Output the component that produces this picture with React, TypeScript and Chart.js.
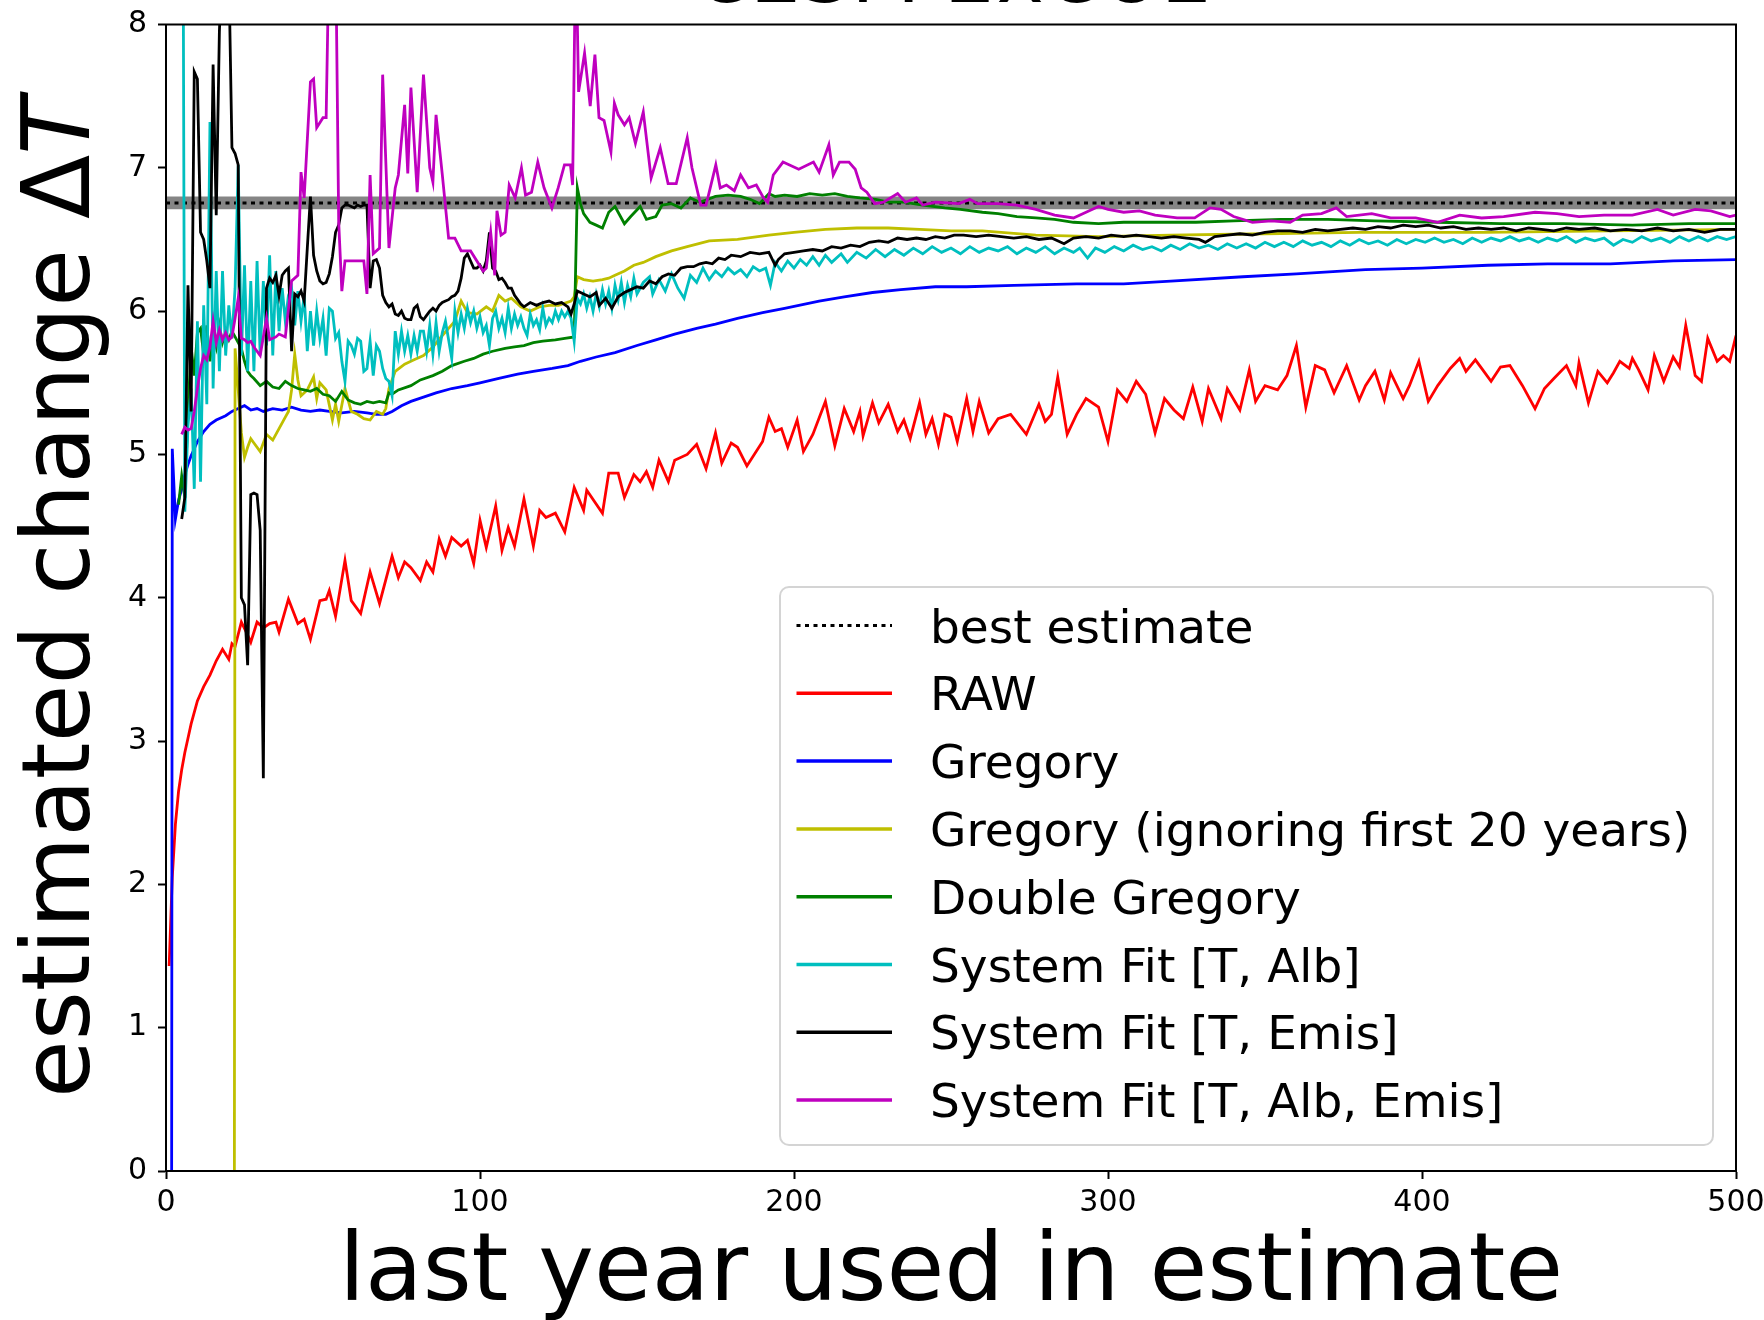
import { useEffect, useRef } from 'react';
import { Chart, registerables } from 'chart.js';

Chart.register(...registerables);

type Pt = [number, number];

const FONT_FAMILY = "'DejaVu Sans', 'Liberation Sans', sans-serif";

// Text
const chartTitle = 'CESM 2xCO2';
const xAxisTitle = 'last year used in estimate';
const yAxisTitleUpright = 'estimated change Δ';
const yAxisTitleItalic = 'T';

// Tick values
const xTicks = [0, 100, 200, 300, 400, 500];
const yTicks = [0, 1, 2, 3, 4, 5, 6, 7, 8];

// Best estimate and its uncertainty band
const bestEstimate = 6.755;
const bestEstimateRange: [number, number] = [6.71, 6.8];
const bestEstimateLabel = 'best estimate';

// [last year used, estimated change]
const rawSeries: Pt[] = [
  [1, 1.43], [2, 2.05], [3, 2.42], [4, 2.65], [5, 2.8], [6, 2.92], [7, 3.02], [8, 3.12], [9, 3.2], [10, 3.28],
  [12, 3.38], [14, 3.46], [16, 3.56], [18, 3.64], [20, 3.57], [21, 3.68], [22, 3.66], [24, 3.83], [26, 3.74], [27, 3.69],
  [29, 3.83], [31, 3.79], [33, 3.82], [35, 3.83], [36, 3.76], [39, 3.99], [42, 3.82], [44, 3.85], [46, 3.71], [49, 3.98],
  [51, 3.99], [52, 4.05], [54, 3.87], [57, 4.26], [59, 3.98], [62, 3.89], [65, 4.18], [68, 3.96], [72, 4.29], [74, 4.14],
  [76, 4.25], [78, 4.21], [81, 4.12], [83, 4.25], [85, 4.18], [87, 4.41], [89, 4.29], [91, 4.42], [94, 4.36], [96, 4.4],
  [98, 4.24], [100, 4.54], [102, 4.35], [105, 4.64], [107, 4.33], [109, 4.49], [111, 4.36], [114, 4.69], [117, 4.36], [119, 4.61],
  [121, 4.56], [124, 4.59], [127, 4.46], [130, 4.77], [133, 4.61], [134, 4.75], [139, 4.59], [141, 4.87], [144, 4.87], [146, 4.7],
  [149, 4.86], [151, 4.81], [153, 4.88], [155, 4.77], [157, 4.96], [160, 4.81], [162, 4.96], [166, 5.0], [169, 5.07], [172, 4.9],
  [175, 5.15], [177, 4.94], [180, 5.08], [182, 5.05], [185, 4.92], [190, 5.09], [192, 5.26], [194, 5.16], [196, 5.18], [198, 5.05],
  [201, 5.24], [203, 5.02], [206, 5.14], [210, 5.37], [213, 5.06], [216, 5.32], [219, 5.16], [221, 5.3], [222, 5.13], [225, 5.36],
  [227, 5.22], [230, 5.35], [233, 5.16], [235, 5.24], [237, 5.11], [240, 5.36], [242, 5.14], [244, 5.25], [246, 5.07], [248, 5.28],
  [250, 5.26], [252, 5.09], [255, 5.39], [257, 5.16], [259, 5.37], [262, 5.15], [265, 5.25], [269, 5.28], [274, 5.14], [278, 5.35],
  [280, 5.23], [282, 5.28], [284, 5.54], [287, 5.14], [290, 5.28], [293, 5.39], [297, 5.33], [300, 5.09], [303, 5.45], [306, 5.37],
  [309, 5.51], [312, 5.42], [315, 5.15], [318, 5.39], [321, 5.31], [324, 5.25], [327, 5.47], [330, 5.23], [332, 5.46], [336, 5.25],
  [338, 5.46], [342, 5.31], [345, 5.59], [347, 5.37], [350, 5.48], [354, 5.45], [357, 5.55], [360, 5.76], [363, 5.33], [366, 5.62],
  [369, 5.59], [372, 5.43], [376, 5.62], [380, 5.38], [382, 5.48], [385, 5.58], [388, 5.38], [390, 5.57], [394, 5.39], [396, 5.48],
  [399, 5.65], [402, 5.37], [405, 5.48], [409, 5.6], [412, 5.67], [414, 5.58], [417, 5.66], [419, 5.6], [422, 5.51], [425, 5.61],
  [428, 5.62], [432, 5.48], [436, 5.32], [439, 5.46], [442, 5.53], [446, 5.62], [449, 5.48], [450, 5.64], [453, 5.36], [456, 5.58],
  [459, 5.5], [461, 5.57], [463, 5.65], [466, 5.6], [467, 5.67], [469, 5.59], [472, 5.45], [474, 5.69], [477, 5.51], [480, 5.68],
  [482, 5.61], [484, 5.9], [487, 5.55], [489, 5.51], [491, 5.81], [494, 5.65], [496, 5.69], [498, 5.65], [500, 5.83],
];

const gregorySeries: Pt[] = [
  [1, -20], [2, 5.04], [3, 4.55], [4, 4.68], [5, 4.76], [6, 4.86], [7, 4.93], [8, 4.99], [9, 5.04], [10, 5.09],
  [12, 5.16], [14, 5.21], [16, 5.24], [19, 5.27], [21, 5.3], [23, 5.32], [25, 5.34], [27, 5.31], [29, 5.32], [31, 5.3],
  [34, 5.32], [37, 5.31], [40, 5.33], [43, 5.31], [46, 5.3], [49, 5.31], [52, 5.3], [56, 5.29], [60, 5.3], [64, 5.29],
  [67, 5.28], [70, 5.28], [72, 5.3], [75, 5.34], [78, 5.37], [82, 5.4], [86, 5.43], [91, 5.46], [96, 5.48], [100, 5.5],
  [106, 5.53], [112, 5.56], [117, 5.58], [123, 5.6], [128, 5.62], [132, 5.65], [137, 5.68], [143, 5.71], [150, 5.76], [156, 5.8],
  [162, 5.84], [169, 5.88], [175, 5.91], [182, 5.95], [190, 5.99], [197, 6.02], [208, 6.07], [216, 6.1], [225, 6.13], [234, 6.15],
  [245, 6.17], [255, 6.17], [270, 6.18], [290, 6.19], [305, 6.19], [320, 6.21], [343, 6.24], [360, 6.26], [382, 6.29], [400, 6.3],
  [421, 6.32], [440, 6.33], [460, 6.33], [480, 6.35], [500, 6.36],
];

const gregoryLateSeries: Pt[] = [
  [21, -20], [22, 5.74], [23, 5.45], [24, 5.15], [25, 4.98], [26, 5.05], [27, 5.11], [28, 5.08], [30, 5.02], [32, 5.14],
  [34, 5.1], [36, 5.18], [38, 5.26], [39, 5.3], [40, 5.45], [41, 5.7], [42, 5.52], [43, 5.41], [45, 5.45], [47, 5.54],
  [48, 5.39], [49, 5.5], [51, 5.45], [53, 5.24], [54, 5.35], [55, 5.23], [57, 5.46], [59, 5.3], [61, 5.28], [63, 5.25],
  [65, 5.24], [67, 5.3], [69, 5.28], [70, 5.32], [71, 5.46], [73, 5.58], [76, 5.63], [79, 5.66], [82, 5.69], [85, 5.75],
  [88, 5.83], [90, 5.88], [92, 5.93], [94, 6.07], [96, 5.99], [99, 5.98], [102, 6.03], [104, 6.0], [106, 6.11], [108, 6.07],
  [110, 6.09], [113, 6.03], [116, 6.0], [119, 6.03], [122, 6.04], [125, 6.04], [129, 6.07], [130, 6.1], [131, 6.24], [133, 6.22],
  [136, 6.21], [139, 6.22], [141, 6.23], [143, 6.25], [146, 6.28], [149, 6.32], [152, 6.34], [156, 6.38], [161, 6.42], [166, 6.45],
  [173, 6.49], [182, 6.5], [192, 6.53], [200, 6.55], [210, 6.57], [220, 6.58], [230, 6.58], [240, 6.57], [250, 6.56], [260, 6.56],
  [277, 6.53], [297, 6.52], [320, 6.53], [350, 6.54], [380, 6.55], [420, 6.55], [460, 6.56], [500, 6.57],
];

const doubleGregorySeries: Pt[] = [
  [4, 4.65], [5, 4.85], [6, 4.7], [7, 5.3], [8, 5.75], [9, 5.55], [10, 5.85], [11, 5.88], [12, 5.7], [13, 5.9],
  [14, 5.65], [15, 5.85], [16, 5.75], [17, 5.9], [18, 5.78], [19, 5.85], [20, 5.8], [21, 5.86], [22, 5.82], [23, 5.78],
  [24, 5.74], [25, 5.65], [26, 5.58], [27, 5.55], [28, 5.53], [30, 5.48], [32, 5.51], [34, 5.47], [36, 5.46], [38, 5.51],
  [40, 5.48], [42, 5.46], [44, 5.45], [46, 5.44], [48, 5.46], [50, 5.42], [52, 5.41], [54, 5.37], [56, 5.44], [58, 5.38],
  [60, 5.36], [62, 5.35], [64, 5.37], [66, 5.36], [68, 5.37], [70, 5.36], [71, 5.43], [72, 5.42], [74, 5.45], [78, 5.48],
  [81, 5.52], [85, 5.55], [88, 5.58], [91, 5.62], [95, 5.65], [98, 5.67], [101, 5.7], [104, 5.72], [108, 5.74], [111, 5.75],
  [114, 5.76], [117, 5.78], [120, 5.79], [124, 5.8], [127, 5.81], [130, 5.82], [131, 6.86], [132, 6.75], [133, 6.68], [135, 6.62],
  [137, 6.6], [139, 6.58], [141, 6.69], [143, 6.73], [146, 6.61], [148, 6.66], [151, 6.73], [153, 6.64], [156, 6.66], [158, 6.74],
  [161, 6.75], [164, 6.72], [167, 6.79], [170, 6.76], [175, 6.8], [179, 6.81], [183, 6.8], [186, 6.78], [189, 6.75], [192, 6.82],
  [194, 6.8], [197, 6.81], [201, 6.8], [205, 6.82], [209, 6.81], [213, 6.82], [217, 6.8], [221, 6.79], [226, 6.78], [230, 6.76],
  [235, 6.76], [241, 6.74], [248, 6.72], [253, 6.71], [260, 6.69], [265, 6.68], [271, 6.66], [277, 6.65], [283, 6.64], [289, 6.62],
  [297, 6.61], [305, 6.62], [315, 6.62], [328, 6.62], [340, 6.63], [355, 6.64], [370, 6.64], [385, 6.63], [405, 6.62], [425, 6.61],
  [445, 6.61], [467, 6.6], [485, 6.61], [500, 6.61],
];

const fitAlbSeries: Pt[] = [
  [5, 12], [6, 4.6], [7, 5.2], [8, 5.46], [9, 4.76], [10, 5.93], [11, 4.81], [12, 6.04], [13, 5.35], [14, 7.32],
  [15, 5.46], [16, 6.28], [17, 5.58], [18, 6.28], [19, 5.69], [20, 6.04], [21, 5.81], [22, 6.16], [23, 7.02], [24, 5.69],
  [25, 6.32], [26, 5.58], [27, 6.21], [28, 5.58], [29, 6.35], [30, 5.69], [31, 6.21], [32, 5.76], [33, 6.39], [34, 5.69],
  [35, 6.28], [36, 5.86], [37, 6.16], [38, 5.93], [39, 6.11], [40, 6.16], [41, 5.9], [42, 6.14], [43, 5.93], [44, 6.11],
  [45, 5.72], [46, 6.0], [47, 5.76], [48, 6.0], [49, 5.81], [50, 5.95], [51, 5.69], [52, 6.02], [53, 6.0], [54, 5.81],
  [55, 5.85], [56, 5.65], [57, 5.51], [58, 5.79], [59, 5.76], [60, 5.7], [61, 5.81], [62, 5.79], [63, 5.58], [64, 5.6],
  [65, 5.79], [66, 5.55], [67, 5.76], [68, 5.72], [69, 5.6], [70, 5.53], [71, 5.51], [72, 5.41], [73, 5.86], [74, 5.7],
  [75, 5.86], [76, 5.72], [77, 5.83], [78, 5.7], [79, 5.83], [80, 5.72], [81, 5.86], [82, 5.86], [83, 5.72], [84, 5.9],
  [85, 5.7], [86, 5.92], [87, 5.72], [88, 5.85], [89, 5.93], [90, 5.8], [91, 5.67], [92, 6.0], [93, 5.85], [94, 5.98],
  [95, 5.88], [96, 6.02], [97, 5.92], [98, 6.0], [99, 5.88], [100, 5.96], [101, 5.85], [102, 5.9], [103, 5.76], [104, 5.95],
  [105, 6.0], [106, 5.88], [107, 5.95], [108, 5.85], [109, 6.02], [110, 5.88], [111, 5.98], [112, 5.9], [113, 5.96], [114, 5.88],
  [115, 5.83], [116, 5.98], [117, 5.9], [118, 5.94], [119, 5.87], [120, 6.02], [121, 5.9], [122, 5.95], [123, 5.92], [124, 6.0],
  [125, 5.94], [126, 6.0], [127, 5.96], [128, 6.0], [129, 5.95], [130, 5.79], [131, 6.09], [132, 6.05], [133, 6.12], [134, 6.02],
  [135, 6.1], [136, 6.0], [137, 6.12], [138, 6.03], [139, 6.15], [140, 6.05], [141, 6.14], [142, 6.02], [143, 6.18], [144, 6.08],
  [145, 6.2], [146, 6.06], [147, 6.18], [148, 6.1], [149, 6.23], [150, 6.12], [152, 6.2], [154, 6.24], [155, 6.12], [157, 6.22],
  [159, 6.14], [161, 6.26], [163, 6.16], [165, 6.09], [167, 6.25], [169, 6.2], [171, 6.3], [173, 6.22], [175, 6.28], [177, 6.24],
  [179, 6.3], [181, 6.26], [183, 6.29], [185, 6.24], [187, 6.31], [189, 6.28], [191, 6.3], [192.5, 6.18], [194, 6.34], [196, 6.28],
  [198, 6.35], [200, 6.3], [202, 6.36], [204, 6.32], [206, 6.38], [208, 6.32], [210, 6.39], [212, 6.34], [215, 6.4], [217, 6.34],
  [220, 6.41], [223, 6.37], [226, 6.43], [229, 6.38], [232, 6.43], [235, 6.39], [238, 6.44], [241, 6.4], [244, 6.45], [247, 6.41],
  [250, 6.44], [253, 6.4], [256, 6.45], [259, 6.41], [262, 6.44], [265, 6.42], [268, 6.45], [271, 6.4], [274, 6.44], [277, 6.41],
  [280, 6.45], [283, 6.4], [286, 6.44], [289, 6.41], [291, 6.44], [293.5, 6.37], [296, 6.44], [299, 6.41], [302, 6.45], [305, 6.42],
  [308, 6.46], [311, 6.43], [314, 6.45], [317, 6.42], [320, 6.46], [323, 6.43], [326, 6.47], [329, 6.44], [332, 6.46], [335, 6.43],
  [338, 6.47], [341, 6.44], [344, 6.47], [347, 6.44], [350, 6.48], [353, 6.45], [356, 6.48], [359, 6.45], [362, 6.49], [365, 6.46],
  [368, 6.48], [371, 6.45], [374, 6.49], [377, 6.46], [380, 6.5], [383, 6.47], [386, 6.49], [389, 6.46], [392, 6.5], [395, 6.47],
  [398, 6.5], [401, 6.48], [404, 6.51], [407, 6.48], [410, 6.5], [413, 6.47], [416, 6.51], [419, 6.48], [422, 6.51], [425, 6.49],
  [428, 6.52], [431, 6.49], [434, 6.51], [437, 6.48], [440, 6.51], [443, 6.49], [446, 6.52], [449, 6.48], [452, 6.51], [455, 6.49],
  [458, 6.51], [461, 6.46], [464, 6.5], [467, 6.48], [470, 6.52], [473, 6.49], [476, 6.51], [479, 6.48], [482, 6.52], [485, 6.49],
  [488, 6.52], [491, 6.49], [494, 6.52], [497, 6.5], [500, 6.52],
];

const fitEmisSeries: Pt[] = [
  [5, 4.55], [6, 4.7], [7, 6.18], [8, 5.3], [9, 7.67], [10, 7.62], [11, 6.55], [12, 6.5], [13, 6.35], [14, 6.16],
  [15, 7.72], [16, 6.67], [17, 7.95], [18, 8.5], [19, 8.6], [20, 8.4], [21, 7.14], [22, 7.1], [23, 7.02], [24, 4.0],
  [25, 3.95], [26, 3.53], [27, 4.72], [28, 4.73], [29, 4.72], [30, 4.47], [31, 2.74], [32, 6.16], [33, 6.23], [34, 6.2],
  [35, 6.25], [36, 6.11], [37, 6.25], [38, 6.28], [39, 6.3], [40, 5.72], [41, 6.12], [42, 6.1], [43, 6.14], [44, 6.07],
  [45, 6.44], [46, 6.8], [47, 6.39], [48, 6.28], [49, 6.21], [50, 6.19], [51, 6.2], [52, 6.26], [53, 6.38], [54, 6.55],
  [55, 6.6], [56, 6.72], [57, 6.74], [58, 6.74], [59, 6.73], [60, 6.72], [61, 6.74], [62, 6.73], [63, 6.74], [64, 6.74],
  [65, 6.16], [66, 6.35], [67, 6.36], [68, 6.3], [69, 6.11], [70, 6.06], [71, 6.03], [72, 6.05], [73, 5.98], [74, 5.97],
  [75, 6.0], [76, 5.95], [77, 5.94], [78, 5.94], [79, 6.02], [80, 6.04], [81, 5.96], [82, 5.94], [83, 5.97], [84, 6.0],
  [85, 6.02], [86, 6.0], [87, 6.04], [88, 6.06], [89, 6.07], [90, 6.08], [91, 6.1], [92, 6.11], [93, 6.14], [94, 6.23],
  [95, 6.37], [96, 6.4], [97, 6.35], [98, 6.3], [99, 6.3], [100, 6.32], [101, 6.28], [102, 6.35], [103, 6.55], [104, 6.3],
  [105, 6.28], [106, 6.22], [107, 6.23], [108, 6.2], [109, 6.16], [110, 6.16], [111, 6.11], [112, 6.08], [113, 6.05], [114, 6.03],
  [116, 6.06], [118, 6.04], [120, 6.06], [122, 6.07], [124, 6.05], [126, 6.06], [128, 6.03], [129, 5.98], [130, 6.05], [131, 6.14],
  [133, 6.12], [135, 6.1], [137, 6.13], [138, 6.04], [140, 6.09], [142, 6.02], [144, 6.1], [146, 6.13], [148, 6.15], [150, 6.17],
  [152, 6.16], [154, 6.21], [156, 6.19], [158, 6.24], [160, 6.26], [162, 6.25], [164, 6.3], [166, 6.31], [168, 6.31], [170, 6.33],
  [172, 6.34], [174, 6.33], [176, 6.37], [178, 6.36], [180, 6.39], [183, 6.38], [186, 6.41], [189, 6.4], [192, 6.41], [194, 6.32],
  [195, 6.36], [197, 6.4], [200, 6.41], [203, 6.42], [206, 6.43], [209, 6.42], [212, 6.45], [215, 6.44], [218, 6.46], [221, 6.45],
  [224, 6.48], [227, 6.49], [230, 6.48], [233, 6.51], [236, 6.5], [239, 6.51], [242, 6.5], [245, 6.52], [248, 6.51], [251, 6.53],
  [254, 6.53], [258, 6.52], [262, 6.53], [266, 6.52], [270, 6.51], [274, 6.52], [278, 6.5], [282, 6.51], [286, 6.47], [289, 6.51],
  [293, 6.52], [297, 6.51], [301, 6.53], [305, 6.52], [309, 6.53], [313, 6.52], [317, 6.51], [321, 6.52], [325, 6.51], [329, 6.5],
  [331, 6.48], [334, 6.52], [338, 6.53], [342, 6.54], [346, 6.53], [350, 6.55], [354, 6.56], [358, 6.56], [362, 6.55], [366, 6.57],
  [370, 6.56], [374, 6.57], [378, 6.58], [382, 6.57], [386, 6.59], [390, 6.58], [394, 6.6], [398, 6.59], [402, 6.6], [406, 6.58],
  [410, 6.59], [414, 6.57], [418, 6.58], [422, 6.57], [426, 6.58], [430, 6.56], [434, 6.58], [438, 6.57], [442, 6.56], [446, 6.58],
  [450, 6.57], [455, 6.58], [460, 6.56], [465, 6.57], [470, 6.56], [475, 6.58], [480, 6.56], [485, 6.57], [490, 6.55], [495, 6.57],
  [500, 6.57],
];

const fitAlbEmisSeries: Pt[] = [
  [5, 5.14], [6, 5.19], [7, 5.17], [8, 5.18], [9, 5.3], [10, 5.46], [11, 5.6], [12, 5.69], [13, 5.66], [14, 5.75],
  [15, 5.93], [16, 5.78], [17, 5.87], [18, 5.8], [19, 5.85], [20, 5.8], [21, 5.82], [22, 5.95], [23, 6.09], [24, 5.81],
  [25, 5.8], [26, 5.78], [27, 5.79], [28, 5.75], [30, 5.69], [32, 5.95], [33, 5.8], [35, 5.82], [36, 5.84], [38, 5.82],
  [40, 6.21], [42, 6.25], [43, 6.97], [44, 6.79], [46, 7.6], [47, 7.62], [48, 7.28], [50, 7.35], [51, 7.35], [52, 8.6],
  [53, 8.6], [54, 8.6], [55, 6.62], [56, 6.14], [57, 6.35], [60, 6.35], [63, 6.35], [64, 6.12], [65, 6.95], [66, 6.4],
  [68, 6.44], [69, 7.65], [71, 6.44], [73, 6.86], [74, 6.95], [76, 7.44], [77, 6.96], [78, 7.56], [80, 6.83], [82, 7.65],
  [84, 7.0], [85, 6.9], [86, 7.37], [88, 6.95], [90, 6.51], [92, 6.51], [94, 6.42], [97, 6.42], [101, 6.28], [102, 6.3],
  [103.4, 6.55], [104.7, 6.25], [105.4, 6.7], [106.7, 6.53], [108, 6.55], [109.3, 6.88], [111.2, 6.79], [113.2, 7.0], [114.5, 6.81], [116.4, 6.83],
  [118.4, 7.04], [120.4, 6.86], [122.9, 6.72], [124.9, 6.86], [126.9, 7.02], [128.8, 7.02], [129.5, 6.88], [130.5, 8.6], [131.4, 7.53], [133.3, 7.8],
  [135.1, 7.43], [136.6, 7.79], [137.9, 7.35], [139.5, 7.33], [141.7, 7.11], [142.8, 7.45], [144, 7.37], [146, 7.3], [147.5, 7.35], [149.5, 7.17],
  [152, 7.39], [154.5, 6.93], [157.4, 7.14], [159.9, 6.89], [162.5, 6.89], [166, 7.21], [167.5, 7.0], [170.3, 6.74], [172, 6.74], [175.1, 7.02],
  [176.5, 6.86], [178.5, 6.88], [181, 6.84], [183, 6.95], [185.5, 6.86], [188, 6.88], [190.3, 6.79], [191.6, 6.76], [193.4, 6.95], [196.5, 7.04],
  [201.5, 6.99], [206.2, 7.04], [208, 6.97], [211.1, 7.16], [212.5, 6.95], [214.5, 7.04], [217.5, 7.04], [219.5, 6.99], [221.4, 6.86], [223.2, 6.83],
  [225.7, 6.75], [228.5, 6.76], [233, 6.82], [235.5, 6.76], [239, 6.79], [241, 6.74], [245, 6.76], [252.5, 6.75], [256, 6.78], [258.5, 6.75],
  [265, 6.75], [271, 6.74], [277, 6.71], [283, 6.67], [289, 6.65], [293, 6.69], [297, 6.73], [300, 6.71], [305, 6.69], [310, 6.7],
  [315, 6.67], [322, 6.65], [327.6, 6.65], [332.5, 6.72], [336, 6.71], [340, 6.66], [346, 6.62], [352, 6.63], [358, 6.62], [362, 6.67],
  [368, 6.68], [372.7, 6.72], [376, 6.66], [384, 6.68], [390, 6.65], [398, 6.65], [405, 6.62], [412, 6.67], [419, 6.65], [426, 6.66],
  [436, 6.69], [443, 6.68], [450, 6.66], [458, 6.67], [467, 6.67], [475, 6.71], [480, 6.67], [487, 6.71], [492, 6.7], [498, 6.66],
  [500, 6.67],
];

// Series in drawing order (later entries sit on top)
const seriesDefs: { label: string; color: string; data: Pt[] }[] = [
  { label: 'RAW', color: '#ff0000', data: rawSeries },
  { label: 'Gregory', color: '#0000ff', data: gregorySeries },
  { label: 'Gregory (ignoring first 20 years)', color: '#bfbf00', data: gregoryLateSeries },
  { label: 'Double Gregory', color: '#008000', data: doubleGregorySeries },
  { label: 'System Fit [T, Alb]', color: '#00bfbf', data: fitAlbSeries },
  { label: 'System Fit [T, Emis]', color: '#000000', data: fitEmisSeries },
  { label: 'System Fit [T, Alb, Emis]', color: '#bf00bf', data: fitAlbEmisSeries },
];

const DOT_DASH = [4, 4.5];

const toPoints = (s: Pt[]) => s.map(([x, y]) => ({ x, y }));

// Figure decorations: frame, title, axis titles and the boxed legend
const decorations = {
  id: 'decorations',
  afterDraw(chart: Chart) {
    const { ctx, chartArea } = chart;
    const { left, top, right, bottom } = chartArea;
    ctx.save();

    ctx.strokeStyle = '#000';
    ctx.lineWidth = 2;
    ctx.setLineDash([]);
    ctx.strokeRect(left, top, right - left, bottom - top);

    ctx.fillStyle = '#000';
    ctx.textBaseline = 'alphabetic';
    const big = `94px ${FONT_FAMILY}`;
    const bigItalic = `italic 94px ${FONT_FAMILY}`;

    // title runs off the top edge of the figure
    ctx.font = `80px ${FONT_FAMILY}`;
    ctx.textAlign = 'left';
    ctx.fillText(chartTitle, 694, 2);

    ctx.font = big;
    ctx.textAlign = 'center';
    ctx.fillText(xAxisTitle, (left + right) / 2, 1300);

    ctx.save();
    ctx.translate(88.5, (top + bottom) / 2);
    ctx.rotate(-Math.PI / 2);
    ctx.font = big;
    const w1 = ctx.measureText(yAxisTitleUpright).width;
    ctx.font = bigItalic;
    const w2 = ctx.measureText(yAxisTitleItalic).width;
    const x0 = -(w1 + w2) / 2;
    ctx.textAlign = 'left';
    ctx.font = big;
    ctx.fillText(yAxisTitleUpright, x0, 0);
    ctx.font = bigItalic;
    ctx.fillText(yAxisTitleItalic, x0 + w1, 0);
    ctx.restore();

    // legend box
    const bx = 780;
    const by = 587;
    const bw = 933;
    const bh = 558;
    ctx.beginPath();
    ctx.roundRect(bx, by, bw, bh, 9);
    ctx.fillStyle = 'rgba(255,255,255,0.8)';
    ctx.fill();
    ctx.strokeStyle = 'rgba(204,204,204,0.85)';
    ctx.lineWidth = 2;
    ctx.stroke();

    const entries = [
      { label: bestEstimateLabel, color: '#000000', dash: DOT_DASH, width: 3 },
      ...seriesDefs.map((s) => ({ label: s.label, color: s.color, dash: [] as number[], width: 3.5 })),
    ];
    const rowStart = 625.5;
    const rowStep = 67.8;
    ctx.font = `47px ${FONT_FAMILY}`;
    ctx.textAlign = 'left';
    ctx.textBaseline = 'alphabetic';
    entries.forEach((e, i) => {
      const y = rowStart + i * rowStep;
      ctx.beginPath();
      ctx.setLineDash(e.dash);
      ctx.strokeStyle = e.color;
      ctx.lineWidth = e.width;
      ctx.moveTo(796.5, y);
      ctx.lineTo(892, y);
      ctx.stroke();
      ctx.setLineDash([]);
      ctx.fillStyle = '#000';
      ctx.fillText(e.label, 930, y + 17);
    });

    ctx.restore();
  },
};

export default function App() {
  const canvasRef = useRef<HTMLCanvasElement | null>(null);

  useEffect(() => {
    const canvas = canvasRef.current;
    if (!canvas) return;

    Chart.defaults.font.family = FONT_FAMILY;

    const [bandLow, bandHigh] = bestEstimateRange;
    const xMin = xTicks[0];
    const xMax = xTicks[xTicks.length - 1];

    const lineDatasets = seriesDefs.map((s, i) => ({
      label: s.label,
      data: toPoints(s.data),
      borderColor: s.color,
      backgroundColor: s.color,
      borderWidth: 2.8,
      pointRadius: 0,
      tension: 0,
      fill: false,
      order: seriesDefs.length - i,
    }));

    const chart = new Chart(canvas, {
      type: 'line',
      data: {
        datasets: [
          {
            label: 'band low',
            data: toPoints([[xMin, bandLow], [xMax, bandLow]]),
            borderColor: 'transparent',
            borderWidth: 0,
            pointRadius: 0,
            fill: false,
            order: 100,
          },
          {
            label: 'band high',
            data: toPoints([[xMin, bandHigh], [xMax, bandHigh]]),
            borderColor: 'transparent',
            borderWidth: 0,
            backgroundColor: 'rgba(0,0,0,0.48)',
            pointRadius: 0,
            fill: '-1',
            order: 99,
          },
          {
            label: bestEstimateLabel,
            data: toPoints([[xMin, bestEstimate], [xMax, bestEstimate]]),
            borderColor: '#000',
            borderWidth: 3,
            borderDash: DOT_DASH,
            pointRadius: 0,
            fill: false,
            order: 98,
          },
          ...lineDatasets,
        ] as any,
      },
      options: {
        responsive: false,
        animation: false,
        devicePixelRatio: 1,
        events: [],
        layout: { padding: { top: 24.5, right: 28, left: 0, bottom: 0 } },
        plugins: {
          legend: { display: false },
          tooltip: { enabled: false },
          title: { display: false },
        },
        scales: {
          x: {
            type: 'linear',
            min: xMin,
            max: xMax,
            afterBuildTicks: (scale: any) => {
              scale.ticks = xTicks.map((v) => ({ value: v }));
            },
            afterFit: (scale: any) => {
              scale.height = 149;
              // let the last tick label run to the canvas edge
              scale.paddingLeft = 0;
              scale.paddingRight = 0;
            },
            grid: {
              drawOnChartArea: false,
              drawTicks: true,
              tickLength: 8,
              tickWidth: 2,
              tickColor: '#000',
            },
            border: { display: true, color: '#000', width: 2 },
            ticks: {
              font: { family: FONT_FAMILY, size: 30 },
              color: '#000',
              padding: 6,
              maxRotation: 0,
              autoSkip: false,
              callback: (v: any) => String(v),
            },
          },
          y: {
            type: 'linear',
            min: yTicks[0],
            max: yTicks[yTicks.length - 1],
            afterBuildTicks: (scale: any) => {
              scale.ticks = yTicks.map((v) => ({ value: v }));
            },
            afterFit: (scale: any) => {
              scale.width = 166;
              scale.paddingTop = 0;
              scale.paddingBottom = 0;
            },
            grid: {
              drawOnChartArea: false,
              drawTicks: true,
              tickLength: 8,
              tickWidth: 2,
              tickColor: '#000',
            },
            border: { display: true, color: '#000', width: 2 },
            ticks: {
              font: { family: FONT_FAMILY, size: 30 },
              color: '#000',
              padding: 11,
              autoSkip: false,
              callback: (v: any) => String(v),
            },
          },
        },
      },
      plugins: [decorations],
    });

    return () => chart.destroy();
  }, []);

  return (
    <div
      style={{
        position: 'fixed',
        left: 0,
        top: 0,
        width: 1764,
        height: 1320,
        background: '#fff',
      }}
    >
      <canvas
        ref={canvasRef}
        width={1764}
        height={1320}
        style={{ display: 'block', width: 1764, height: 1320 }}
      />
    </div>
  );
}
